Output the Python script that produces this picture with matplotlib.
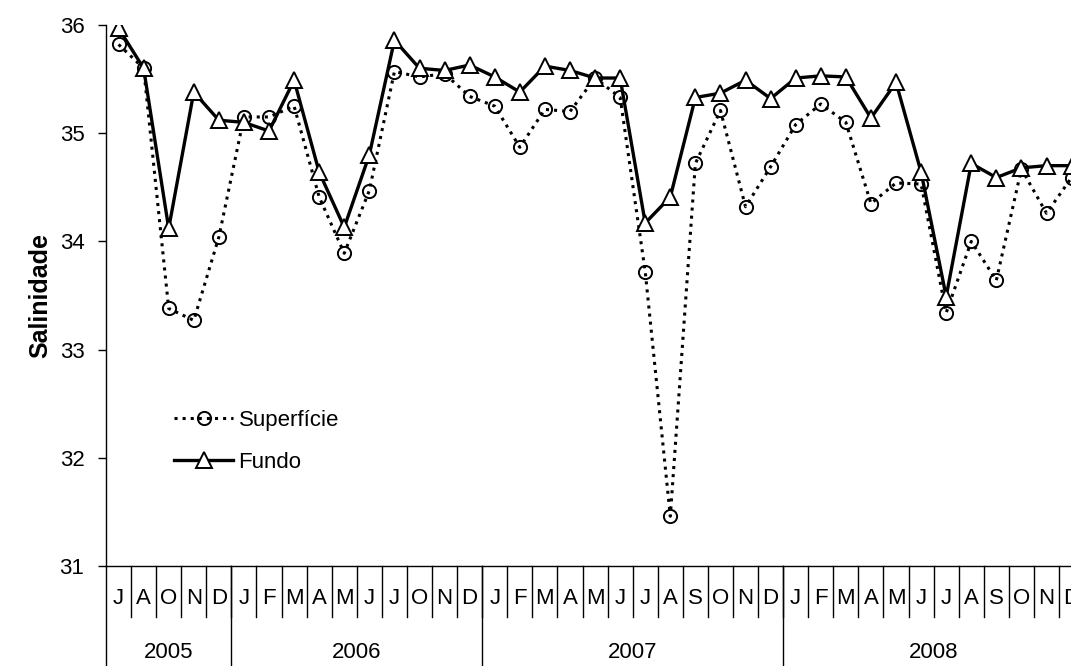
import matplotlib
matplotlib.use("Agg")
import matplotlib.pyplot as plt
from matplotlib.transforms import blended_transform_factory

plt.rcParams['font.family'] = ['Liberation Sans', 'DejaVu Sans']

# monthly sampling, grouped by year
months = ['J', 'A', 'O', 'N', 'D',
          'J', 'F', 'M', 'A', 'M', 'J', 'J', 'O', 'N', 'D',
          'J', 'F', 'M', 'A', 'M', 'J', 'J', 'A', 'S', 'O', 'N', 'D',
          'J', 'F', 'M', 'A', 'M', 'J', 'J', 'A', 'S', 'O', 'N', 'D']
years = ['2005', '2006', '2007', '2008']
months_per_year = [5, 10, 12, 12]

superficie = [35.82, 35.60, 33.38, 33.27, 34.04, 35.15, 35.15, 35.25, 34.41, 33.89,
              34.47, 35.57, 35.52, 35.55, 35.34, 35.25, 34.87, 35.22, 35.20, 35.51,
              35.33, 33.72, 31.46, 34.72, 35.21, 34.32, 34.69, 35.08, 35.27, 35.10,
              34.35, 34.54, 34.53, 33.34, 34.00, 33.64, 34.67, 34.26, 34.59]
fundo = [35.97, 35.60, 34.12, 35.38, 35.12, 35.10, 35.02, 35.49, 34.64, 34.13,
         34.80, 35.86, 35.60, 35.58, 35.63, 35.52, 35.38, 35.62, 35.58, 35.51,
         35.51, 34.17, 34.41, 35.33, 35.37, 35.49, 35.32, 35.51, 35.53, 35.52,
         35.14, 35.47, 34.64, 33.49, 34.72, 34.59, 34.68, 34.70, 34.70]

FS = 16
W, H = 1071, 666
fig = plt.figure(figsize=(W / 100, H / 100), dpi=100)
# plot area runs past the right edge, as in the original export
left, top, bottom, step = 106, 25, 566, 25.08
ax = fig.add_axes([left / W, 1 - bottom / H, len(months) * step / W, (bottom - top) / H])

x = list(range(len(months)))
ax.plot(x, superficie, linestyle=':', color='black', lw=2.2,
        marker='o', markersize=9.5, markerfacecolor='none',
        markeredgecolor='black', markeredgewidth=1.4, label='Superfície')
ax.plot(x, fundo, linestyle='-', color='black', lw=2.4,
        marker='^', markersize=11, markerfacecolor='white',
        markeredgecolor='black', markeredgewidth=1.4, label='Fundo')

ax.set_xlim(-0.5, len(months) - 0.5)
ax.set_ylim(31, 36)
ax.set_yticks([31, 32, 33, 34, 35, 36])
ax.tick_params(axis='y', direction='out', length=5.5, width=1, pad=10, labelsize=FS)
ax.set_xticks([])
for s in ['top', 'right']:
    ax.spines[s].set_visible(False)
for s in ['left', 'bottom']:
    ax.spines[s].set_linewidth(1)

# two-level category axis: month row and year row
trans = blended_transform_factory(ax.transData, ax.transAxes)
span = bottom - top
row1 = -(617 - bottom) / span
row2 = -(H - bottom) / span
ylab_m = -(599 - bottom) / span
ylab_y = -(653 - bottom) / span

for i, m in enumerate(months):
    ax.text(i, ylab_m, m, transform=trans, ha='center', va='center', fontsize=FS)
    ax.plot([i + 0.5, i + 0.5], [0, row1], transform=trans, color='black',
            lw=1, clip_on=False)

edge = -0.5
ax.plot([edge, edge], [0, row2], transform=trans, color='black', lw=1, clip_on=False)
for yr, n in zip(years, months_per_year):
    ax.text(edge + n / 2, ylab_y, yr, transform=trans, ha='center', va='center',
            fontsize=FS)
    edge += n
    ax.plot([edge, edge], [0, row2], transform=trans, color='black', lw=1,
            clip_on=False)

fig.text(40 / W, 1 - 295 / H, 'Salinidade', rotation=90, ha='center', va='center',
         fontsize=18, fontweight='bold')

ax.legend(loc='upper left', bbox_to_anchor=(163 / W, 1 - 399 / H),
          bbox_transform=fig.transFigure, frameon=False, numpoints=1,
          handlelength=2.65, handletextpad=0.25, labelspacing=0.95, borderpad=0,
          fontsize=FS)

fig.savefig('out.png', dpi=100)
